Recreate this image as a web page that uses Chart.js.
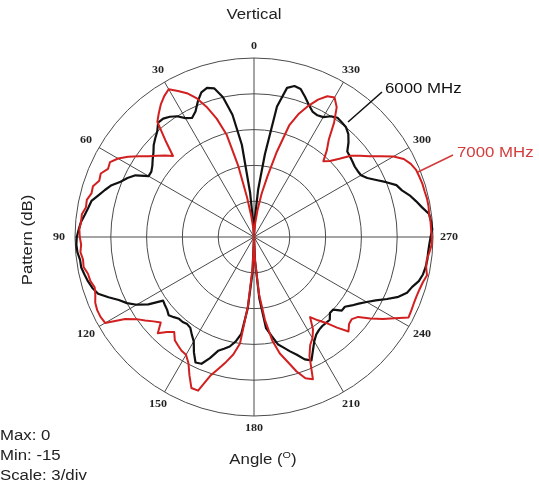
<!DOCTYPE html>
<html>
<head>
<meta charset="utf-8">
<script src="https://cdn.jsdelivr.net/npm/chart.js@4/dist/chart.umd.min.js"></script>
<style>
html,body{margin:0;padding:0;background:#fff;}
#wrap{position:relative;width:539px;height:491px;overflow:hidden;background:#fff;}
#c{position:absolute;left:0;top:0;}
#lead{position:absolute;left:0;top:0;}
.t{position:absolute;font-family:"Liberation Sans",Arial,sans-serif;font-size:14px;color:#222;white-space:nowrap;line-height:1;}
.c{transform:translate(-50%,-50%) scaleX(1.2);}
.l{transform-origin:0 50%;transform:translateY(-50%) scaleX(1.2);}
.ang{position:absolute;font-family:"Liberation Serif","Times New Roman",serif;font-weight:bold;font-size:10.5px;color:#222;white-space:nowrap;line-height:1;transform:translate(-50%,-50%) scaleX(1.15);}
</style>
</head>
<body>
<div id="wrap">
<canvas id="c" width="539" height="491"></canvas>
<svg id="lead" width="539" height="491">
  <line x1="382" y1="92" x2="348" y2="122" stroke="#111" stroke-width="1.6"/>
  <line x1="453" y1="155" x2="418" y2="172" stroke="#d43c3c" stroke-width="1.6"/>
</svg>
<div class="t c" style="left:254px;top:14px;">Vertical</div>
<div class="t" style="left:27px;top:240px;transform:translate(-50%,-50%) rotate(-90deg) scaleX(1.2);">Pattern (dB)</div>
<div class="t c" style="left:263px;top:458px;">Angle (<sup style="font-size:9px;vertical-align:6px;">O</sup>)</div>
<div class="t l" style="left:0px;top:435px;">Max: 0</div>
<div class="t l" style="left:0px;top:455px;">Min: -15</div>
<div class="t l" style="left:0px;top:475px;">Scale: 3/div</div>
<div class="t l" style="left:385px;top:88px;color:#111;">6000 MHz</div>
<div class="t l" style="left:457px;top:152px;color:#d43c3c;">7000 MHz</div>
</div>
<script>
// Angles (degrees, counter-clockwise from the top), 2.5 degree steps
const angles = [
  0,2.5,5,7.5,10,12.5,15,17.5,20,22.5,25,27.5,
  30,32.5,35,37.5,40,42.5,45,47.5,50,52.5,55,57.5,
  60,62.5,65,67.5,70,72.5,75,77.5,80,82.5,85,87.5,
  90,92.5,95,97.5,100,102.5,105,107.5,110,112.5,115,117.5,
  120,122.5,125,127.5,130,132.5,135,137.5,140,142.5,145,147.5,
  150,152.5,155,157.5,160,162.5,165,167.5,170,172.5,175,177.5,
  180,182.5,185,187.5,190,192.5,195,197.5,200,202.5,205,207.5,
  210,212.5,215,217.5,220,222.5,225,227.5,230,232.5,235,237.5,
  240,242.5,245,247.5,250,252.5,255,257.5,260,262.5,265,267.5,
  270,272.5,275,277.5,280,282.5,285,287.5,290,292.5,295,297.5,
  300,302.5,305,307.5,310,312.5,315,317.5,320,322.5,325,327.5,
  330,332.5,335,337.5,340,342.5,345,347.5,350,352.5,355,357.5];

// Pattern (dB), 6000 MHz
const pattern6000 = [
  -15,-14.0,-11.3,-7.2,-4.6,-3.0,-2.1,-1.9,-2.1,-2.7,-3.4,-3.75,
  -3.5,-3.0,-2.7,-2.5,-2.5,-3.0,-3.3,-3.6,-4.0,-4.3,-4.6,-4.8,
  -4.8,-3.8,-3.3,-2.9,-2.3,-1.9,-1.5,-1.05,-0.9,-0.7,-0.45,-0.3,
  -0.15,-0.1,-0.15,-0.3,-0.3,-0.45,-0.6,-0.8,-1.1,-1.8,-2.5,-3.0,
  -3.65,-4.5,-5.7,-5.6,-5.5,-5.3,-5.5,-5.7,-5.7,-5.8,-5.7,-5.3,
  -4.9,-4.1,-3.4,-3.5,-4.2,-5.0,-5.3,-5.6,-6.1,-6.8,-9.0,-12,
  -15,-13,-9.8,-7.3,-6.6,-5.8,-5.4,-4.95,-4.5,-3.9,-3.6,-4.3,
  -4.9,-5.3,-5.5,-5.6,-5.6,-5.6,-6.0,-6.0,-5.4,-5.4,-5.0,-4.6,
  -4.1,-3.5,-2.7,-1.9,-1.35,-1.1,-0.7,-0.5,-0.4,-0.35,-0.35,-0.3,
  -0.2,-0.05,-0.1,-0.2,-0.7,-1.1,-1.5,-2.0,-2.3,-3.0,-3.7,-4.3,
  -4.65,-4.7,-4.7,-4.6,-4.5,-4.4,-3.8,-3.3,-3.0,-2.9,-2.8,-3.0,
  -3.4,-3.5,-3.4,-3.0,-2.5,-2.0,-1.9,-2.2,-3.9,-8.0,-11,-13.5];

// Pattern (dB), 7000 MHz
const pattern7000 = [
  -15,-14.8,-14.2,-13.2,-11.6,-8.9,-6.1,-4.6,-3.4,-2.4,-1.7,-1.2,
  -0.7,-1.0,-1.4,-1.9,-2.4,-4.0,-5.4,-4.9,-4.4,-3.9,-3.2,-2.5,
  -1.85,-1.4,-1.5,-1.1,-1.2,-0.85,-0.9,-0.65,-0.7,-0.45,-0.45,-0.35,
  -0.4,-0.5,-0.4,-0.55,-0.5,-0.75,-0.8,-1.0,-0.85,-0.6,-0.5,-0.5,
  -0.6,-2.2,-3.0,-3.5,-4.0,-4.4,-3.6,-4.2,-4.6,-4.1,-3.9,-3.7,
  -3.6,-3.1,-2.2,-1.3,-1.3,-2.8,-3.6,-4.3,-5.0,-6.0,-9.2,-12.5,
  -15,-13,-10.2,-8.0,-6.2,-5.0,-4.2,-3.2,-2.4,-2.1,-4.0,-4.8,
  -5.2,-5.8,-6.8,-6.2,-5.6,-4.7,-3.8,-4.2,-4.3,-4.0,-3.1,-2.2,
  -1.4,-0.4,-0.45,-0.5,-0.5,-0.45,-0.35,-0.15,-0.35,-0.4,-0.25,-0.1,
  -0.1,-0.15,-0.15,-0.2,-0.15,-0.15,-0.2,-0.2,-0.25,-0.3,-0.5,-0.85,
  -1.5,-2.4,-3.2,-3.8,-4.4,-5.3,-6.0,-6.4,-5.5,-4.7,-3.3,-2.1,
  -1.5,-1.7,-2.3,-3.1,-4.0,-5.2,-7.6,-9.8,-11.3,-12.7,-13.8,-14.6];

// Angle tick labels
const angleTicks = [0,30,60,90,120,150,180,210,240,270,300,330];

// Radial scale (dB)
const rMin = -15, rMax = 0, rStep = 3;

// Chart.js radar runs clockwise; the reference runs counter-clockwise, so reorder.
const n = angles.length;
const order = angles.map((_, i) => (n - i) % n);
const chartLabels = order.map(k => String(angles[k]));
const data6000 = order.map(k => pattern6000[k]);
const data7000 = order.map(k => pattern7000[k]);
const tickEvery = 30 / (angles[1] - angles[0]);

const chart = new Chart(document.getElementById('c'), {
  type: 'radar',
  data: {
    labels: chartLabels,
    datasets: [
      {label: '7000 MHz', data: data7000, borderColor: '#d21f1f', borderWidth: 2, pointRadius: 0, pointHoverRadius: 0, fill: false, tension: 0},
      {label: '6000 MHz', data: data6000, borderColor: '#111111', borderWidth: 2.2, pointRadius: 0, pointHoverRadius: 0, fill: false, tension: 0}
    ]
  },
  options: {
    responsive: false,
    animation: false,
    devicePixelRatio: 1,
    layout: {padding: {left: 75, right: 106, top: 58, bottom: 75}},
    plugins: {legend: {display: false}, title: {display: false}, tooltip: {enabled: false}},
    elements: {line: {borderJoinStyle: 'round'}},
    scales: {
      r: {
        min: rMin, max: rMax, startAngle: 0,
        ticks: {stepSize: rStep, display: false},
        grid: {circular: true, lineWidth: 1, color: (c) => c.index === 0 ? 'rgba(0,0,0,0)' : '#4a4a4a'},
        angleLines: {display: true, color: '#4a4a4a', lineWidth: (c) => (c.index % tickEvery === 0) ? 1 : 0},
        pointLabels: {display: false}
      }
    }
  }
});

// Angle labels placed with the radial scale
const scale = chart.scales.r;
const wrap = document.getElementById('wrap');
angleTicks.forEach(a => {
  const idx = ((n - angles.indexOf(a)) % n);
  const s = Math.abs(Math.sin(a * Math.PI / 180));
  const p = scale.getPointPosition(idx, scale.drawingArea + 12 + 4 * s);
  const d = document.createElement('div');
  d.className = 'ang';
  d.textContent = String(a);
  d.style.left = p.x + 'px';
  d.style.top = p.y + 'px';
  wrap.appendChild(d);
});
</script>
</body>
</html>
